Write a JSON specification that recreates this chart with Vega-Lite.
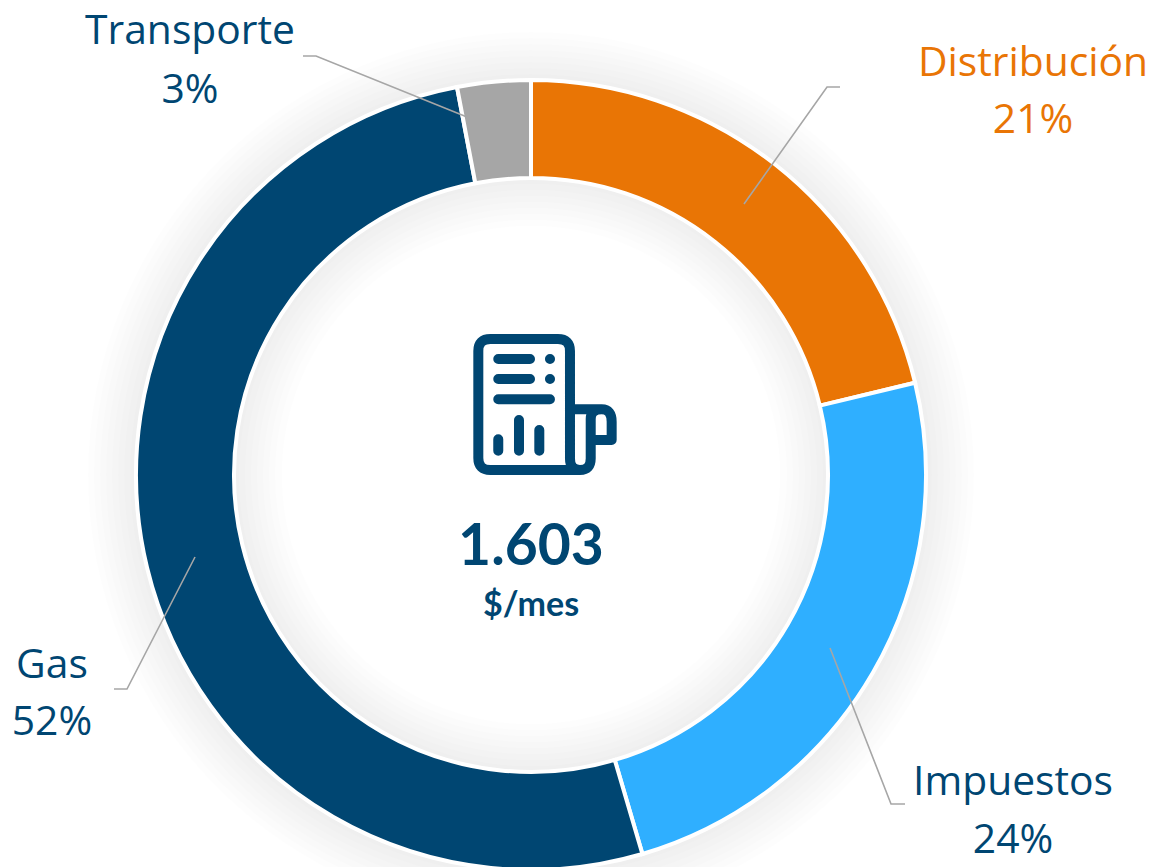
{
"$schema":"https://vega.github.io/schema/vega-lite/v6.json",
"width":1155,"height":867,"padding":0,"autosize":{"type":"none"},
"background":"white","view":{"stroke":null},
"datasets":{
"ring":[{"serie":"Distribución","valor":21.25,"orden":1},{"serie":"Impuestos","valor":24.2,"orden":2},{"serie":"Gas","valor":51.55,"orden":3},{"serie":"Transporte","valor":3.0,"orden":4}],
"glow":[{"outer":1.0152,"inner":0.7367},{"outer":1.0304,"inner":0.7215},{"outer":1.0456,"inner":0.7063},{"outer":1.0608,"inner":0.6911},{"outer":1.076,"inner":0.6759},{"outer":1.0912,"inner":0.6607},{"outer":1.1064,"inner":0.6455},{"outer":1.1216,"inner":0.6303}],
"labels":[
{"t":"Transporte","serie":"Transporte txt","x":-0.8633,"y":1.0911},{"t":"3%","serie":"Transporte txt","x":-0.8633,"y":0.9418},
{"t":"Distribución","serie":"Distribución","x":1.2709,"y":1.0101},{"t":"21%","serie":"Distribución","x":1.2709,"y":0.8658},
{"t":"Impuestos","serie":"Gas","x":1.2203,"y":-0.8101},{"t":"24%","serie":"Gas","x":1.2203,"y":-0.957},
{"t":"Gas","serie":"Gas","x":-1.2127,"y":-0.5139},{"t":"52%","serie":"Gas","x":-1.2127,"y":-0.6582}],
"leaders":[
{"id":"T","o":1,"x":-0.5772,"y":1.0608},{"id":"T","o":2,"x":-0.5443,"y":1.0608},{"id":"T","o":3,"x":-0.162,"y":0.9063},
{"id":"D","o":1,"x":0.7823,"y":0.9823},{"id":"D","o":2,"x":0.7494,"y":0.9823},{"id":"D","o":3,"x":0.5392,"y":0.6861},
{"id":"I","o":1,"x":0.757,"y":-0.438},{"id":"I","o":2,"x":0.9114,"y":-0.8329},{"id":"I","o":3,"x":0.9468,"y":-0.8329},
{"id":"G","o":1,"x":-0.8506,"y":-0.2076},{"id":"G","o":2,"x":-1.0228,"y":-0.5418},{"id":"G","o":3,"x":-1.0557,"y":-0.5418}]
},
"encoding":{
"x":{"type":"quantitative","scale":{"domain":[-1.3443,1.5797],"nice":false,"zero":false},"axis":null},
"y":{"type":"quantitative","scale":{"domain":[-0.9924,1.2025],"nice":false,"zero":false},"axis":null}
},
"layer":[
{"data":{"name":"glow"},"mark":{"type":"arc","theta":0,"theta2":6.2832,"fill":"#000000","opacity":0.0075,"stroke":null},
"encoding":{"x":{"datum":0},"y":{"datum":0},
"radius":{"field":"outer","type":"quantitative","scale":{"type":"linear","domain":[0,1],"range":[0,395],"zero":true,"clamp":false},"legend":null},
"radius2":{"field":"inner"}}},
{"data":{"name":"ring"},"mark":{"type":"arc","radius":395,"radius2":297,"stroke":"#ffffff","strokeWidth":4},
"encoding":{"x":{"datum":0},"y":{"datum":0},
"theta":{"field":"valor","type":"quantitative","stack":true},
"order":{"field":"orden","type":"quantitative"},
"color":{"field":"serie","type":"nominal","legend":null,"scale":{"domain":["Distribución","Impuestos","Gas","Transporte","Transporte txt"],"range":["#E97505","#2FAFFF","#004672","#A6A6A6","#004672"]}}}},
{"data":{"name":"leaders"},"mark":{"type":"line","color":"#A6A6A6","strokeWidth":1.6,"interpolate":"linear"},
"encoding":{"x":{"field":"x"},"y":{"field":"y"},"detail":{"field":"id"},"order":{"field":"o","type":"quantitative"}}},
{"data":{"name":"labels"},"mark":{"type":"text","font":"Open Sans","fontSize":40.8,"baseline":"alphabetic","align":"center"},
"encoding":{"x":{"field":"x"},"y":{"field":"y"},"text":{"field":"t"},"color":{"field":"serie","type":"nominal","legend":null}}},
{"data":{"values":[{"t":"1.603","x":0,"y":-0.2278}]},"mark":{"type":"text","font":"Lato","fontWeight":"bold","fontSize":57,"baseline":"alphabetic","align":"center","color":"#004672"},
"encoding":{"x":{"field":"x"},"y":{"field":"y"},"text":{"field":"t"}}},
{"data":{"values":[{"t":"$/mes","x":0,"y":-0.357}]},"mark":{"type":"text","font":"Lato","fontWeight":"bold","fontSize":34,"baseline":"alphabetic","align":"center","color":"#004672"},
"encoding":{"x":{"field":"x"},"y":{"field":"y"},"text":{"field":"t"}}},
{"data":{"values":[{"x":0.0354,"y":0.1785}]},"mark":{"type":"point","filled":false,"opacity":1,"color":"#004672","strokeWidth":10,"strokeCap":"round","strokeJoin":"round","size":20736,
"shape":"M0.347 0.75L0.347 -0.743Q0.347 -0.91 0.18 -0.91L-0.759 -0.91Q-0.926 -0.91 -0.926 -0.743L-0.926 0.743Q-0.926 0.91 -0.759 0.91L0.486 0.91M0.347 0.75Q0.347 0.91 0.486 0.91Q0.635 0.91 0.635 0.75L0.635 0.2Q0.635 0.067 0.787 0.067Q0.926 0.067 0.926 0.24L0.926 0.493L0.635 0.493M0.347 0.067L0.787 0.067M-0.649 -0.632L-0.208 -0.632M-0.649 -0.354L-0.208 -0.354M0.069 -0.632L0.07 -0.632M0.069 -0.354L0.07 -0.354M-0.649 -0.072L0.069 -0.072M-0.649 0.483L-0.649 0.642M-0.361 0.215L-0.361 0.642M-0.079 0.354L-0.079 0.642"},
"encoding":{"x":{"field":"x"},"y":{"field":"y"}}}
]
}
